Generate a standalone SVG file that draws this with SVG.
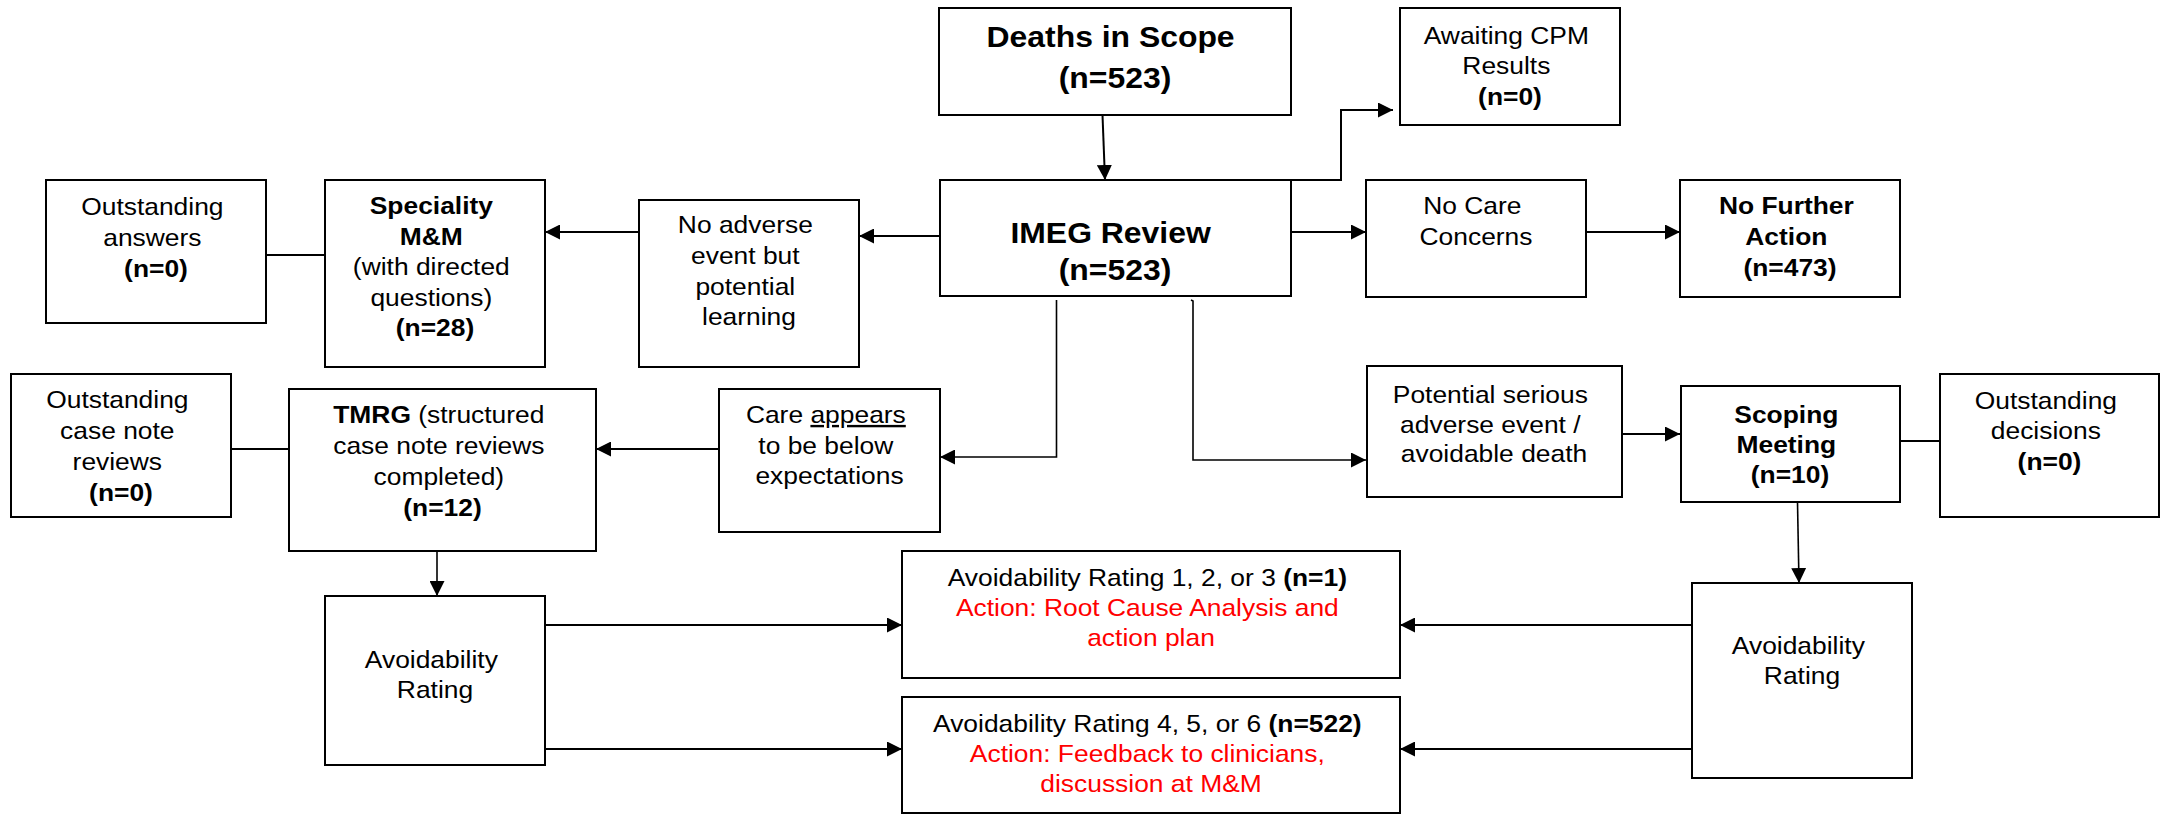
<svg xmlns="http://www.w3.org/2000/svg" width="2161" height="815" viewBox="0 0 2161 815">
  <style>
    .box { fill: #ffffff; stroke: #000000; stroke-width: 2; }
    .wire { fill: none; stroke: #000000; stroke-width: 2; }
    .thin { stroke-width: 1.6; }
    text { font-family: "Liberation Sans", Arial, sans-serif; font-size: 24px; fill: #000000; text-anchor: middle; }
    .big { font-size: 29px; font-weight: bold; }
    .b { font-weight: bold; }
    .red { fill: #ff0000; }
  </style>
  <defs>
    <marker id="arrow" markerUnits="userSpaceOnUse" markerWidth="15" markerHeight="15" refX="15" refY="7.5" orient="auto">
      <path d="M0,0 L15,7.5 L0,15 Z" fill="#000000"/>
    </marker>
  </defs>

  <rect width="2161" height="815" fill="#ffffff"/>

  <!-- connectors -->
  <g id="connectors">
    <path class="wire" d="M1102.5,115 L1105,180" marker-end="url(#arrow)"/>
    <path class="wire" d="M1105,180 L1341,180 L1341,110 L1393,110" marker-end="url(#arrow)"/>
    <path class="wire" d="M1291,232 L1366,232" marker-end="url(#arrow)"/>
    <path class="wire" d="M1586,232 L1680,232" marker-end="url(#arrow)"/>
    <path class="wire" d="M940,236 L859,236" marker-end="url(#arrow)"/>
    <path class="wire" d="M639,232 L545,232" marker-end="url(#arrow)"/>
    <path class="wire" d="M266,255 L325,255"/>
    <path class="wire thin" d="M1056.5,300 L1056.5,457 L940,457" marker-end="url(#arrow)"/>
    <path class="wire thin" d="M1191,300 L1193,301 L1193,460 L1366,460" marker-end="url(#arrow)"/>
    <path class="wire" d="M719,449 L596,449" marker-end="url(#arrow)"/>
    <path class="wire" d="M231,449 L289,449"/>
    <path class="wire thin" d="M437,551 L437,596" marker-end="url(#arrow)"/>
    <path class="wire" d="M545,625 L902,625" marker-end="url(#arrow)"/>
    <path class="wire" d="M545,749 L902,749" marker-end="url(#arrow)"/>
    <path class="wire" d="M1622,434 L1680,434" marker-end="url(#arrow)"/>
    <path class="wire" d="M1900,441 L1940,441"/>
    <path class="wire thin" d="M1797.5,502 L1799,583" marker-end="url(#arrow)"/>
    <path class="wire" d="M1692,625 L1400,625" marker-end="url(#arrow)"/>
    <path class="wire" d="M1692,749 L1400,749" marker-end="url(#arrow)"/>
  </g>

  <g id="deaths-in-scope">
    <rect class="box" x="939" y="8" width="352" height="107"/>
    <text class="big" transform="translate(1115,0) scale(1.1,1)">
      <tspan x="0" y="47">Deaths in Scope</tspan>
      <tspan x="0" y="88">(n=523)</tspan>
    </text>
  </g>

  <g id="awaiting-cpm">
    <rect class="box" x="1400" y="8" width="220" height="117"/>
    <text transform="translate(1510,0) scale(1.1,1)">
      <tspan x="0" y="44">Awaiting CPM</tspan>
      <tspan x="0" y="74">Results</tspan>
      <tspan x="0" y="105" class="b">(n=0)</tspan>
    </text>
  </g>

  <g id="imeg-review">
    <rect class="box" x="940" y="180" width="351" height="116"/>
    <text class="big" transform="translate(1115,0) scale(1.1,1)">
      <tspan x="0" y="243">IMEG Review</tspan>
      <tspan x="0" y="280">(n=523)</tspan>
    </text>
  </g>

  <g id="no-care-concerns">
    <rect class="box" x="1366" y="180" width="220" height="117"/>
    <text transform="translate(1476,0) scale(1.1,1)">
      <tspan x="0" y="214">No Care</tspan>
      <tspan x="0" y="245">Concerns</tspan>
    </text>
  </g>

  <g id="no-further-action">
    <rect class="box" x="1680" y="180" width="220" height="117"/>
    <text transform="translate(1790,0) scale(1.1,1)">
      <tspan x="0" y="214" class="b">No Further</tspan>
      <tspan x="0" y="245" class="b">Action</tspan>
      <tspan x="0" y="276" class="b">(n=473)</tspan>
    </text>
  </g>

  <g id="no-adverse-event">
    <rect class="box" x="639" y="200" width="220" height="167"/>
    <text transform="translate(749,0) scale(1.1,1)">
      <tspan x="0" y="233">No adverse</tspan>
      <tspan x="0" y="264">event but</tspan>
      <tspan x="0" y="295">potential</tspan>
      <tspan x="0" y="325">learning</tspan>
    </text>
  </g>

  <g id="speciality-mm">
    <rect class="box" x="325" y="180" width="220" height="187"/>
    <text transform="translate(435,0) scale(1.1,1)">
      <tspan x="0" y="214" class="b">Speciality</tspan>
      <tspan x="0" y="245" class="b">M&amp;M</tspan>
      <tspan x="0" y="275">(with directed</tspan>
      <tspan x="0" y="306">questions)</tspan>
      <tspan x="0" y="336" class="b">(n=28)</tspan>
    </text>
  </g>

  <g id="outstanding-answers">
    <rect class="box" x="46" y="180" width="220" height="143"/>
    <text transform="translate(156,0) scale(1.1,1)">
      <tspan x="0" y="215">Outstanding</tspan>
      <tspan x="0" y="246">answers</tspan>
      <tspan x="0" y="277" class="b">(n=0)</tspan>
    </text>
  </g>

  <g id="outstanding-case-note-reviews">
    <rect class="box" x="11" y="374" width="220" height="143"/>
    <text transform="translate(121,0) scale(1.1,1)">
      <tspan x="0" y="408">Outstanding</tspan>
      <tspan x="0" y="439">case note</tspan>
      <tspan x="0" y="470">reviews</tspan>
      <tspan x="0" y="501" class="b">(n=0)</tspan>
    </text>
  </g>

  <g id="tmrg">
    <rect class="box" x="289" y="389" width="307" height="162"/>
    <text transform="translate(442.5,0) scale(1.1,1)">
      <tspan x="0" y="423"><tspan class="b">TMRG</tspan> (structured</tspan>
      <tspan x="0" y="454">case note reviews</tspan>
      <tspan x="0" y="485">completed)</tspan>
      <tspan x="0" y="516" class="b">(n=12)</tspan>
    </text>
  </g>

  <g id="care-below-expectations">
    <rect class="box" x="719" y="389" width="221" height="143"/>
    <text transform="translate(829.5,0) scale(1.1,1)">
      <tspan x="0" y="423">Care <tspan text-decoration="underline">appears</tspan></tspan>
      <tspan x="0" y="454">to be below</tspan>
      <tspan x="0" y="484">expectations</tspan>
    </text>
  </g>

  <g id="potential-serious-event">
    <rect class="box" x="1367" y="366" width="255" height="131"/>
    <text transform="translate(1494,0) scale(1.1,1)">
      <tspan x="0" y="403">Potential serious</tspan>
      <tspan x="0" y="433">adverse event /</tspan>
      <tspan x="0" y="462">avoidable death</tspan>
    </text>
  </g>

  <g id="scoping-meeting">
    <rect class="box" x="1681" y="386" width="219" height="116"/>
    <text transform="translate(1790,0) scale(1.1,1)">
      <tspan x="0" y="423" class="b">Scoping</tspan>
      <tspan x="0" y="453" class="b">Meeting</tspan>
      <tspan x="0" y="483" class="b">(n=10)</tspan>
    </text>
  </g>

  <g id="outstanding-decisions">
    <rect class="box" x="1940" y="374" width="219" height="143"/>
    <text transform="translate(2049.5,0) scale(1.1,1)">
      <tspan x="0" y="409">Outstanding</tspan>
      <tspan x="0" y="439">decisions</tspan>
      <tspan x="0" y="470" class="b">(n=0)</tspan>
    </text>
  </g>

  <g id="avoidability-rating-left">
    <rect class="box" x="325" y="596" width="220" height="169"/>
    <text transform="translate(435,0) scale(1.1,1)">
      <tspan x="0" y="668">Avoidability</tspan>
      <tspan x="0" y="698">Rating</tspan>
    </text>
  </g>

  <g id="avoidability-rating-right">
    <rect class="box" x="1692" y="583" width="220" height="195"/>
    <text transform="translate(1802,0) scale(1.1,1)">
      <tspan x="0" y="654">Avoidability</tspan>
      <tspan x="0" y="684">Rating</tspan>
    </text>
  </g>

  <g id="rating-1-3">
    <rect class="box" x="902" y="551" width="498" height="127"/>
    <text transform="translate(1151,0) scale(1.1,1)">
      <tspan x="0" y="586">Avoidability Rating 1, 2, or 3 <tspan class="b">(n=1)</tspan></tspan>
      <tspan x="0" y="616" class="red">Action: Root Cause Analysis and</tspan>
      <tspan x="0" y="646" class="red">action plan</tspan>
    </text>
  </g>

  <g id="rating-4-6">
    <rect class="box" x="902" y="697" width="498" height="116"/>
    <text transform="translate(1151,0) scale(1.1,1)">
      <tspan x="0" y="732">Avoidability Rating 4, 5, or 6 <tspan class="b">(n=522)</tspan></tspan>
      <tspan x="0" y="762" class="red">Action: Feedback to clinicians,</tspan>
      <tspan x="0" y="792" class="red">discussion at M&amp;M</tspan>
    </text>
  </g>
</svg>
